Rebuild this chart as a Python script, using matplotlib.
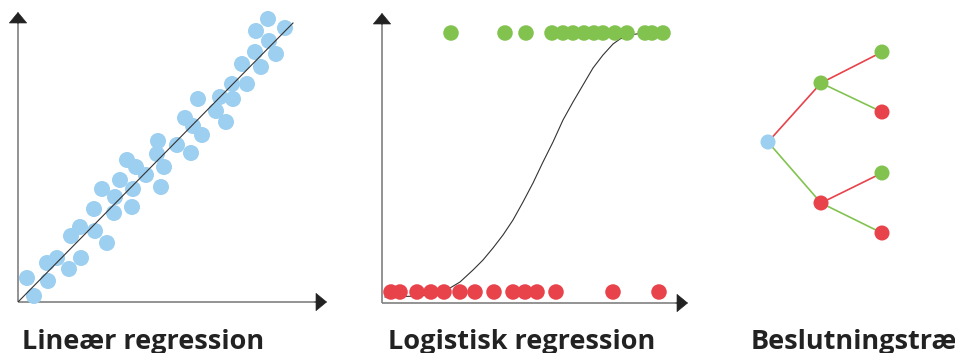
import matplotlib
matplotlib.use("Agg")
import matplotlib.pyplot as plt

# colours
BLUE = "#9ccff0"
GREEN = "#82c350"
RED = "#e8424a"
AXIS_GREY = "#808080"
HEAD = "#222222"

# --- Lineær regression: scattered points and the fitted line
lin_x = [9, 16, 29, 30, 39, 51, 53, 62, 63, 76, 77, 89, 84, 96, 97, 102, 109, 114,
         115, 118, 128, 139, 140, 143, 146, 159, 167, 173, 175, 180, 184, 198, 202,
         208, 214, 215, 224, 229, 237, 238, 243, 250, 251, 258, 267]
lin_y = [24, 6, 39, 21, 44, 33, 66, 75, 44, 93, 71, 59, 113, 89, 105, 122, 142, 95,
         113, 135, 127, 148, 161, 115, 135, 157, 184, 149, 176, 203, 167, 191, 205,
         180, 218, 203, 238, 218, 250, 271, 235, 283, 261, 248, 274]
fit_x = [0, 275]
fit_y = [0, 279]

# --- Logistisk regression: two classes and the logistic curve
pos_x = [69, 123, 144, 170, 181, 191, 202, 212, 221, 233, 245, 263, 270, 281]
pos_y = [270] * len(pos_x)
neg_x = [9, 18, 35, 49, 62, 78, 93, 112, 131, 143, 155, 174, 231, 277]
neg_y = [11] * len(neg_x)
curve_x = [3, 38, 58, 68, 78, 91, 101, 111, 121, 131, 141, 151, 161, 171, 181,
           191, 201, 211, 221, 231, 238, 248, 261]
curve_y = [6, 7, 10, 15, 21, 33, 43, 55, 68, 83, 101, 120, 141, 161, 183,
           201, 218, 235, 248, 259, 264, 268, 270]

# --- Beslutningstræ: nodes and edges
node_x = [28, 81, 81, 142, 142, 142, 142]
node_y = [118, 177, 57, 208, 148, 87, 27]
node_col = [BLUE, GREEN, RED, GREEN, RED, GREEN, RED]
edges = [(0, 1, RED), (0, 2, GREEN), (1, 3, RED), (1, 4, GREEN), (2, 5, RED), (2, 6, GREEN)]

titles = ["Lineær regression", "Logistisk regression", "Beslutningstræ"]
title_x = [22, 388, 751]

W, H = 955, 353
fig = plt.figure(figsize=(W / 100, H / 100), dpi=100)


def px_axes(left, top, right, bottom):
    return fig.add_axes([left / W, 1 - bottom / H, (right - left) / W, (bottom - top) / H])


def draw_arrows(ax):
    # grey shafts with small dark triangular heads
    ax.plot([0, 0.985], [0, 0], transform=ax.transAxes, color=AXIS_GREY, lw=1.2,
            clip_on=False, solid_capstyle="butt", zorder=1)
    ax.plot([0, 0], [0, 0.985], transform=ax.transAxes, color=AXIS_GREY, lw=1.2,
            clip_on=False, solid_capstyle="butt", zorder=1)
    style = "-|>,head_length=7.5,head_width=6.2"
    ax.annotate("", xy=(1, 0), xycoords="axes fraction", xytext=(0.96, 0),
                arrowprops=dict(arrowstyle=style, color=HEAD, lw=0.5, mutation_scale=1,
                                shrinkA=0, shrinkB=0))
    ax.annotate("", xy=(0, 1), xycoords="axes fraction", xytext=(0, 0.96),
                arrowprops=dict(arrowstyle=style, color=HEAD, lw=0.5, mutation_scale=1,
                                shrinkA=0, shrinkB=0))
    ax.axis("off")


# panel 1
ax1 = px_axes(18, 12, 327, 302)
ax1.set_xlim(0, 309)
ax1.set_ylim(0, 290)
ax1.scatter(lin_x, lin_y, s=133, color=BLUE, edgecolors="none", clip_on=False, zorder=2)
ax1.plot(fit_x, fit_y, color="#333333", lw=0.8, zorder=3)
draw_arrows(ax1)

# panel 2
ax2 = px_axes(382, 13, 688, 303)
ax2.set_xlim(0, 306)
ax2.set_ylim(0, 290)
ax2.plot(curve_x, curve_y, color="#333333", lw=0.8, zorder=2)
ax2.scatter(pos_x, pos_y, s=125, color=GREEN, edgecolors="none", clip_on=False, zorder=3)
ax2.scatter(neg_x, neg_y, s=125, color=RED, edgecolors="none", clip_on=False, zorder=3)
draw_arrows(ax2)

# panel 3
ax3 = px_axes(740, 30, 955, 260)
ax3.set_xlim(0, 215)
ax3.set_ylim(0, 230)
for a, b, c in edges:
    ax3.plot([node_x[a], node_x[b]], [node_y[a], node_y[b]], color=c, lw=1.2, zorder=1)
ax3.scatter(node_x, node_y, s=117, color=node_col, edgecolors="none", zorder=2)
ax3.axis("off")

for t, x in zip(titles, title_x):
    fig.text(x / W, 4 / H, t, fontsize=19.5, family="Open Sans", weight="bold",
             color="#222222", ha="left", va="baseline")

fig.savefig("out.png", dpi=100)
